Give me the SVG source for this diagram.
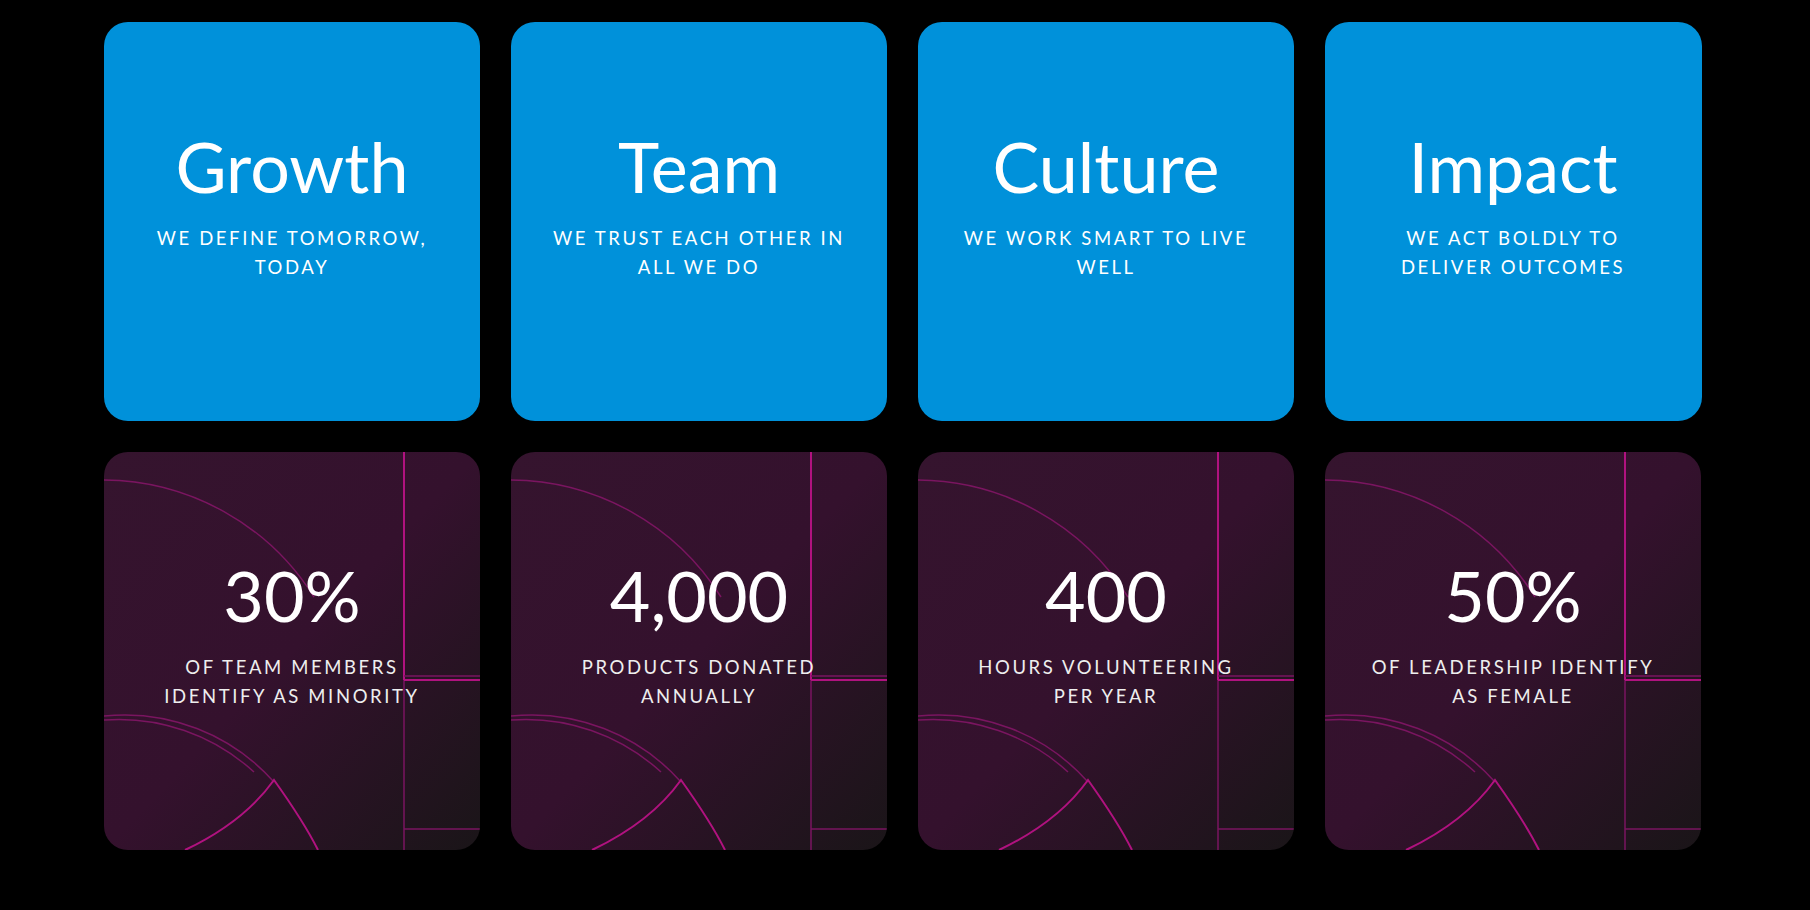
<svg xmlns="http://www.w3.org/2000/svg" width="1810" height="910" viewBox="0 0 1810 910">
<style>
.blue{fill:#0091da}
.title{font-family:Lato,"Noto Sans",sans-serif;font-size:70px;fill:#fff;text-anchor:middle}
.sub{font-family:Lato,"Noto Sans",sans-serif;font-size:18.5px;fill:#fff;text-anchor:middle;letter-spacing:2.6px}
.num{font-family:Lato,"Noto Sans",sans-serif;font-size:70px;fill:#fff;text-anchor:middle}
.sub2{font-family:Lato,"Noto Sans",sans-serif;font-size:18.5px;fill:#eee;text-anchor:middle;letter-spacing:2.6px}
.ln{fill:none;stroke:#b0127f;stroke-width:2}
.dim{fill:none;stroke:#7a1560;stroke-width:1.5}
</style>
<defs>
<linearGradient id="g" x1="0" y1="0" x2="1" y2="1">
<stop offset="0" stop-color="#35142e"/><stop offset="0.5" stop-color="#34112d"/><stop offset="1" stop-color="#1a1518"/>
</linearGradient>
<clipPath id="c"><rect x="0" y="0" width="376" height="398" rx="24"/></clipPath>
<g id="deco">
<rect x="0" y="0" width="376" height="398" rx="24" fill="url(#g)"/>
<g clip-path="url(#c)">
<path class="dim" d="M0 28 A250 250 0 0 1 210 145"/>
<path class="dim" d="M0 264 A200 200 0 0 1 170 330"/>
<path class="dim" d="M0 268 A200 200 0 0 1 150 320"/>
<line class="ln" x1="300" y1="0" x2="300" y2="228"/>
<line class="dim" x1="300" y1="228" x2="300" y2="398"/>
<line class="ln" x1="300" y1="228" x2="376" y2="228"/>
<line class="dim" x1="300" y1="224" x2="376" y2="224"/>
<line class="dim" x1="300" y1="377" x2="376" y2="377"/>
<path class="ln" d="M81 398 Q140 370 170 328 Q200 370 214 398"/>
</g>
</g>
</defs>
<rect width="1810" height="910" fill="#000"/>
<g id="growth"><rect class="blue" x="104" y="22" width="376" height="399" rx="24"/><text class="title" x="292" y="193">Growth</text><text class="sub" x="292" y="245">WE DEFINE TOMORROW,</text><text class="sub" x="292" y="274">TODAY</text></g>
<g id="team"><rect class="blue" x="511" y="22" width="376" height="399" rx="24"/><text class="title" x="699" y="193">Team</text><text class="sub" x="699" y="245">WE TRUST EACH OTHER IN</text><text class="sub" x="699" y="274">ALL WE DO</text></g>
<g id="culture"><rect class="blue" x="918" y="22" width="376" height="399" rx="24"/><text class="title" x="1106" y="193">Culture</text><text class="sub" x="1106" y="245">WE WORK SMART TO LIVE</text><text class="sub" x="1106" y="274">WELL</text></g>
<g id="impact"><rect class="blue" x="1325" y="22" width="377" height="399" rx="24"/><text class="title" x="1513" y="193">Impact</text><text class="sub" x="1513" y="245">WE ACT BOLDLY TO</text><text class="sub" x="1513" y="274">DELIVER OUTCOMES</text></g>
<g id="stat1"><use href="#deco" x="104" y="452"/><text class="num" x="292" y="622">30%</text><text class="sub2" x="292" y="674">OF TEAM MEMBERS</text><text class="sub2" x="292" y="703">IDENTIFY AS MINORITY</text></g>
<g id="stat2"><use href="#deco" x="511" y="452"/><text class="num" x="699" y="622">4,000</text><text class="sub2" x="699" y="674">PRODUCTS DONATED</text><text class="sub2" x="699" y="703">ANNUALLY</text></g>
<g id="stat3"><use href="#deco" x="918" y="452"/><text class="num" x="1106" y="622">400</text><text class="sub2" x="1106" y="674">HOURS VOLUNTEERING</text><text class="sub2" x="1106" y="703">PER YEAR</text></g>
<g id="stat4"><use href="#deco" x="1325" y="452"/><text class="num" x="1513" y="622">50%</text><text class="sub2" x="1513" y="674">OF LEADERSHIP IDENTIFY</text><text class="sub2" x="1513" y="703">AS FEMALE</text></g>
<g id="connectors"/>
</svg>
